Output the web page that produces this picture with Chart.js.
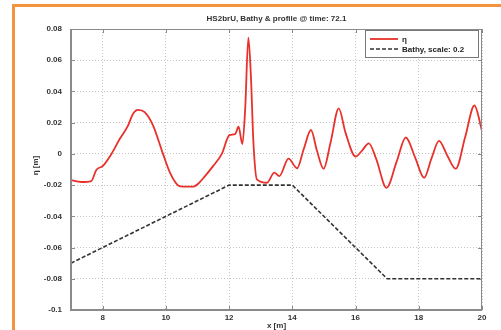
<!DOCTYPE html>
<html lang="en">
<head>
  <meta charset="UTF-8">
  <title>HS2brU profile</title>
  <style>
    body { margin: 0; background: #fff; }
    #wrap { position: relative; width: 501px; height: 330px; overflow: hidden; }
    #frame {
      position: absolute; left: 12px; top: 4px; width: 520px; height: 360px;
      border-left: 3px solid #f5943f; border-top: 3px solid #f5943f;
      pointer-events: none;
    }
    canvas { position: absolute; left: 0; top: 0; }
  </style>
  <script src="https://cdn.jsdelivr.net/npm/chart.js"></script>
</head>
<body>
<div id="wrap">
  <canvas id="chart" width="501" height="330"></canvas>
  <div id="frame"></div>
</div>
<script>
  // free surface elevation eta along the flume
  const etaX = [7.0, 7.32, 7.64, 7.8, 8.01, 8.28, 8.54, 8.8, 8.96, 9.12, 9.33, 9.6, 9.91,
    10.13, 10.39, 10.55, 10.87, 11.03, 11.24, 11.5, 11.77, 12.01, 12.19, 12.3, 12.42,
    12.51, 12.61, 12.69, 12.77, 12.88, 13.2, 13.43, 13.59, 13.88, 14.15, 14.36, 14.59,
    14.78, 14.99, 15.21, 15.47, 15.68, 16.0, 16.2, 16.42, 16.65, 16.98, 17.3, 17.59,
    17.88, 18.17, 18.4, 18.64, 18.9, 19.17, 19.47, 19.76, 20.0];
  const etaY = [-0.0168, -0.018, -0.0174, -0.0103, -0.0077, 0.0, 0.0095, 0.018, 0.0256,
    0.0282, 0.0267, 0.018, 0.0, -0.012, -0.0202, -0.021, -0.021, -0.019, -0.0142, -0.0077,
    0.0, 0.012, 0.0127, 0.0174, 0.0063, 0.029, 0.0744, 0.05, 0.0073, -0.0163, -0.0185,
    -0.012, -0.0142, -0.003, -0.0092, 0.003, 0.0153, 0.002, -0.0095, 0.0073, 0.0292, 0.0138,
    -0.0017, 0.002, 0.0067, -0.003, -0.0217, -0.005, 0.0105, -0.002, -0.0153, -0.003, 0.0084,
    -0.001, -0.0095, 0.011, 0.031, 0.0148];

  // bathymetry (scaled by 0.2)
  const bathyX = [7, 12, 14, 17, 20];
  const bathyY = [-0.07, -0.02, -0.02, -0.08, -0.08];

  const xTicks = [8, 10, 12, 14, 16, 18, 20];
  const yTicks = [-0.1, -0.08, -0.06, -0.04, -0.02, 0, 0.02, 0.04, 0.06, 0.08];

  const titleText = 'HS2brU, Bathy & profile @ time: 72.1';
  const fontFam = '"Liberation Sans", Arial, sans-serif';

  const toPts = (xs, ys) => xs.map((x, i) => ({ x: x, y: ys[i] }));

  // box, inward ticks, titles and legend in matlab style
  const decor = {
    id: 'decor',
    afterDatasetsDraw(chart) {
      const ctx = chart.ctx;
      const a = chart.chartArea;
      const xs = chart.scales.x, ys = chart.scales.y;
      ctx.save();
      ctx.strokeStyle = '#8a8a8a';
      ctx.lineWidth = 1;
      ctx.strokeRect(a.left + 0.5, a.top + 0.5, a.right - a.left - 1, a.bottom - a.top - 1);
      ctx.lineWidth = 2;
      ctx.beginPath();
      ctx.moveTo(a.left, a.top); ctx.lineTo(a.left, a.bottom); ctx.lineTo(a.right, a.bottom);
      ctx.stroke();
      ctx.lineWidth = 1;
      ctx.beginPath();
      xTicks.forEach(v => {
        const p = Math.round(xs.getPixelForValue(v)) + 0.5;
        ctx.moveTo(p, a.bottom); ctx.lineTo(p, a.bottom - 4);
        ctx.moveTo(p, a.top); ctx.lineTo(p, a.top + 4);
      });
      yTicks.forEach(v => {
        const p = Math.round(ys.getPixelForValue(v)) + 0.5;
        ctx.moveTo(a.left, p); ctx.lineTo(a.left + 4, p);
        ctx.moveTo(a.right, p); ctx.lineTo(a.right - 4, p);
      });
      ctx.stroke();

      ctx.fillStyle = '#333';
      ctx.font = 'bold 8px ' + fontFam;
      ctx.textAlign = 'center';
      ctx.textBaseline = 'middle';
      ctx.fillText(titleText, (a.left + a.right) / 2, 19);
      ctx.fillText('x [m]', (a.left + a.right) / 2, 326);
      ctx.save();
      ctx.translate(36, (a.top + a.bottom) / 2 - 4);
      ctx.rotate(-Math.PI / 2);
      ctx.fillText('\u03b7 [m]', 0, 0);
      ctx.restore();

      // legend
      const lx = 365, ly = 30, lw = 113, lh = 27;
      ctx.fillStyle = '#fff';
      ctx.fillRect(lx, ly, lw, lh);
      ctx.strokeStyle = '#777';
      ctx.strokeRect(lx + 0.5, ly + 0.5, lw, lh);
      chart.data.datasets.forEach((ds, i) => {
        const y = ly + 9 + i * 10;
        ctx.strokeStyle = ds.borderColor;
        ctx.lineWidth = ds.borderWidth;
        ctx.setLineDash(ds.borderDash || []);
        ctx.beginPath();
        ctx.moveTo(lx + 5, y); ctx.lineTo(lx + 33, y);
        ctx.stroke();
        ctx.setLineDash([]);
        ctx.fillStyle = '#222';
        ctx.textAlign = 'left';
        ctx.fillText(ds.label, lx + 37, y + 1);
      });
      ctx.restore();
    }
  };

  const gridOpts = {
    color: '#c4c4c4',
    lineWidth: 1,
    drawTicks: false
  };

  new Chart(document.getElementById('chart'), {
    type: 'line',
    data: {
      datasets: [
        {
          label: '\u03b7',
          data: toPts(etaX, etaY),
          borderColor: '#e8312b',
          borderWidth: 1.8,
          pointRadius: 0,
          cubicInterpolationMode: 'monotone',
          fill: false
        },
        {
          label: 'Bathy, scale: 0.2',
          data: toPts(bathyX, bathyY),
          borderColor: '#333',
          borderWidth: 1.6,
          borderDash: [4, 2],
          pointRadius: 0,
          tension: 0,
          fill: false
        }
      ]
    },
    options: {
      responsive: false,
      animation: false,
      layout: { padding: { top: 29, right: 19, left: 0, bottom: 0 } },
      plugins: { legend: { display: false }, title: { display: false }, tooltip: { enabled: false } },
      scales: {
        x: {
          type: 'linear',
          min: 7, max: 20,
          afterFit: s => { s.height = 20; },
          afterBuildTicks: s => { s.ticks = xTicks.map(v => ({ value: v })); },
          grid: Object.assign({}, gridOpts),
          border: { display: false, dash: [1, 2] },
          ticks: {
            color: '#333', padding: 3,
            font: { family: fontFam, size: 8, weight: 'bold' },
            maxRotation: 0
          }
        },
        y: {
          min: -0.1, max: 0.08,
          afterFit: s => { s.width = 71; },
          afterBuildTicks: s => { s.ticks = yTicks.map(v => ({ value: v })); },
          grid: Object.assign({}, gridOpts),
          border: { display: false, dash: [1, 2] },
          ticks: {
            color: '#333', padding: 9,
            font: { family: fontFam, size: 8, weight: 'bold' },
            callback: v => String(+v.toFixed(2))
          }
        }
      }
    },
    plugins: [decor]
  });
</script>
</body>
</html>
